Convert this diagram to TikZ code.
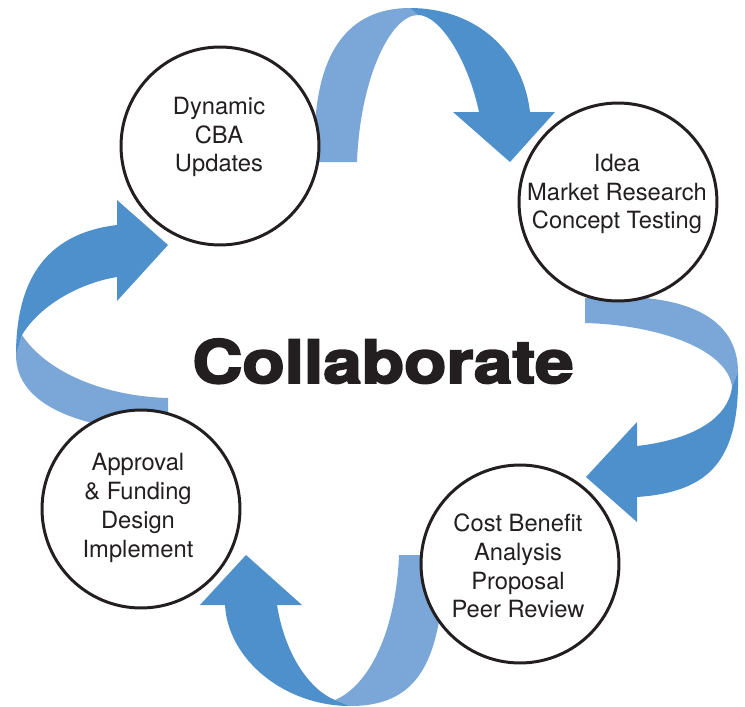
\documentclass[tikz,border=0pt]{standalone}
\usepackage{fontspec}
\setmainfont{TeX Gyre Heros}
\newfontfamily\heavyfont{TeX Gyre Heros}[BoldFeatures={FakeBold=3}]
\definecolor{inkblack}{RGB}{35,31,32}
\definecolor{ribbonlight}{RGB}{123,167,216}
\definecolor{ribbondark}{RGB}{78,144,204}

\begin{document}
\begin{tikzpicture}[x=0.02cm, y=-0.02cm,
    stage/.style={circle, draw=inkblack, line width=1.7pt, fill=white, minimum size=3.96cm, inner sep=0pt},
    stagetext/.style={align=center, text=inkblack, font=\fontsize{13.5}{16.4}\selectfont},
    ribbonback/.style={fill=ribbonlight},
    ribbonfront/.style={fill=ribbondark},
    headline/.style={text=inkblack, font=\heavyfont\bfseries\fontsize{34}{40}\selectfont},
]
\useasboundingbox (0,0) rectangle (745,707);

% top ribbon
\fill[ribbonback] (315,162) .. controls (310,50) and (350,8) .. (410,8)
    -- (418,15) .. controls (390,15) and (360,80) .. (357,162) -- cycle;
\fill[ribbonfront] (410,8) .. controls (470,8) and (522,45) .. (530,112)
    -- (555,112) -- (510,162) -- (453,112) -- (479,112)
    .. controls (468,60) and (440,15) .. (418,15) -- cycle;

% right ribbon
\fill[ribbonback] (585,298) .. controls (690,290) and (738,320) .. (738,372)
    -- (732,387) .. controls (728,350) and (660,325) .. (585,323) -- cycle;
\fill[ribbonfront] (738,372) .. controls (740,460) and (710,492) .. (637,497)
    -- (637,522) -- (586,477) -- (637,422) -- (637,446)
    .. controls (690,440) and (728,420) .. (732,387) -- cycle;

% bottom ribbon
\fill[ribbonback] (399,555) -- (445,555) .. controls (442,660) and (420,706) .. (350,706)
    -- (335,700) .. controls (370,685) and (396,630) .. (399,555) -- cycle;
\fill[ribbonfront] (350,706) .. controls (285,706) and (228,660) .. (225,605)
    -- (200,605) -- (246,555) -- (302,605) -- (277,605)
    .. controls (285,655) and (310,690) .. (335,700) -- cycle;

% left ribbon
\fill[ribbonback] (168,398) -- (168,432) .. controls (80,430) and (16,405) .. (16,355)
    -- (22,335) .. controls (45,370) and (100,396) .. (168,398) -- cycle;
\fill[ribbonfront] (16,355) .. controls (16,275) and (50,233) .. (117,225)
    -- (117,200) -- (168,245) -- (117,301) -- (117,277)
    .. controls (80,283) and (40,305) .. (22,335) -- cycle;

% stages
\node[stage] (dynamic) at (220,146) {};
\node[stage] (idea) at (618,202) {};
\node[stage] (costben) at (520,564) {};
\node[stage] (approval) at (141,509) {};

\node[stagetext] (dynamictext) at ([shift={(-1,-9)}]dynamic.center) {Dynamic\\CBA\\Updates};
\node[stagetext] (ideatext) at ([shift={(-1,-8)}]idea.center) {Idea\\Market Research\\Concept Testing};
\node[stagetext] (costbentext) at ([shift={(-2,2)}]costben.center) {Cost Benefit\\Analysis\\Proposal\\Peer Review};
\node[stagetext] (approvaltext) at ([shift={(-3,-1)}]approval.center) {Approval\\\& Funding\\Design\\Implement};

% centre word
\node[headline, anchor=base] (collab) at (383,383) {\scalebox{1.16}[1]{Collaborate}};
\end{tikzpicture}
\end{document}
